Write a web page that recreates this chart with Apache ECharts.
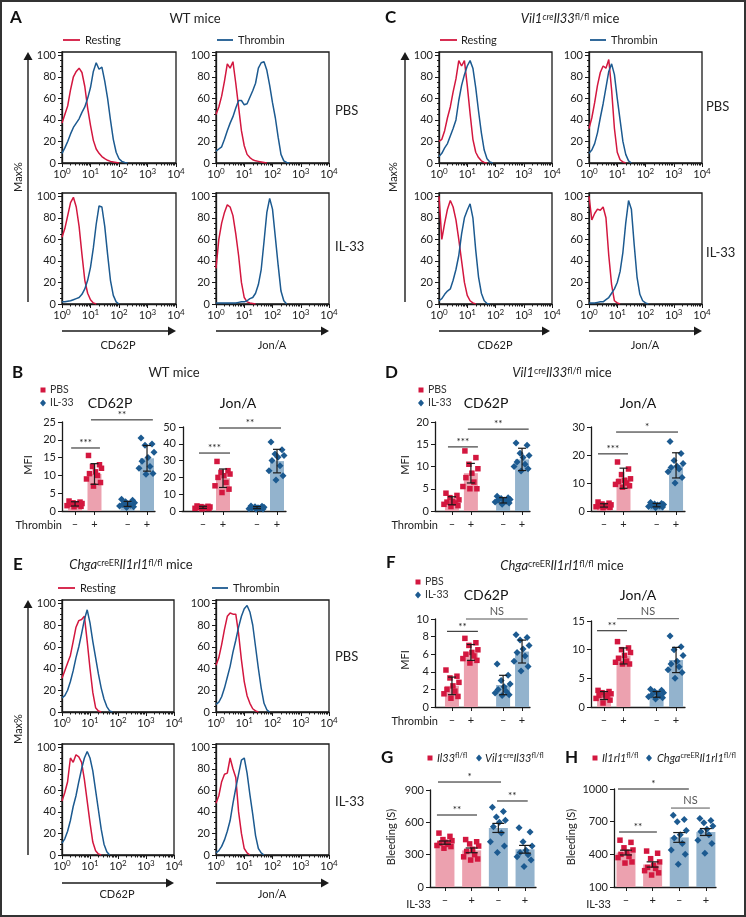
<!DOCTYPE html>
<html><head><meta charset="utf-8">
<script src="https://cdn.jsdelivr.net/npm/echarts@6/dist/echarts.min.js"></script>
<style>html,body{margin:0;padding:0;background:#fff}#c{width:746px;height:917px}</style>
</head><body><div id="c"></div><script>
// ---------- DATA ----------
// Histogram curves: Max% values sampled every 0.1 decade from 10^0
const A_CD62P_PBS_rest = [37,45,53,68,80,85,88,84,71,51,35,21,13,9,6,4,2.5,1.5,1,0.5,0];
const A_CD62P_PBS_thr  = [9,14,20,27,33,37,41,47,52,60,70,85,93,87,89,76,60,40,22,10,4,1.5,0.5,0];
const A_JonA_PBS_rest  = [45,52,62,76,92,88,94,74,52,30,16,8,5,3,2,1.5,1,0.5,0];
const A_JonA_PBS_thr   = [11,13,15,22,30,37,43,51,58,58,54,55,61,67,74,88,93,94,86,72,56,42,24,8,2,0.5,0];
const A_CD62P_IL33_rest= [62,70,82,94,99,90,72,46,22,10,4,1,0];
const A_CD62P_IL33_thr = [2,2,2.5,3,4,5,6,9,14,22,34,52,74,91,90,72,46,22,8,2,0];
const A_JonA_IL33_rest = [33,60,75,85,92,90,82,65,45,20,6,2,1,0.5,0];
const A_JonA_IL33_thr  = [1,1,1,1,1,1,1,1,1.5,2,2,3,5,6,10,18,32,58,85,98,88,62,36,12,3,0];

const C_CD62P_PBS_rest = [20,22,30,42,52,66,78,95,90,95,72,46,22,10,5,2,0.5,0];
const C_CD62P_PBS_thr  = [6,9,14,18,25,32,40,58,72,82,90,95,88,70,48,28,12,4,1,0];
const C_JonA_PBS_rest  = [32,42,56,72,84,90,88,96,68,32,10,3,1,0];
const C_JonA_PBS_thr   = [9,12,18,28,42,55,70,85,92,82,60,40,20,8,2,0];
const C_CD62P_IL33_rest= [100,60,75,88,96,90,78,60,40,20,8,3,1,0];
const C_CD62P_IL33_thr = [3,5,9,12,14,22,32,45,65,80,87,93,80,50,25,10,3,0.5,0];
const C_JonA_IL33_rest = [100,78,84,88,87,90,80,45,18,3,1,0];
const C_JonA_IL33_thr  = [1,1,1,1.5,2,2,4,6,10,14,20,30,48,75,96,88,55,25,9,3,1,0];

const E_CD62P_PBS_rest = [31,38,45,52,65,78,84,85,88,65,40,18,4,1,0];
const E_CD62P_PBS_thr  = [13,15,20,28,38,50,60,72,85,94,82,65,50,35,22,12,5,1,0];
const E_JonA_PBS_rest  = [43,50,62,76,88,91,90,90,72,48,28,15,8,3,1,0];
const E_JonA_PBS_thr   = [7,9,14,22,32,42,55,66,78,88,95,98,92,80,60,40,22,8,2,0];
const E_CD62P_IL33_rest= [50,58,68,90,86,93,91,86,70,50,30,12,4,1,0];
const E_CD62P_IL33_thr = [11,15,22,32,45,55,68,80,90,96,90,78,60,42,24,10,3,0];
const E_JonA_IL33_rest = [48,55,68,75,76,90,80,72,40,20,6,2,0];
const E_JonA_IL33_thr  = [2,4,8,14,22,32,48,62,75,88,90,76,56,38,18,6,2,0];

const X_TICKS = [0,1,2,3,4]; // exponents of 10

// Bar/dot panels: groups = [PBS/–, PBS/+, IL-33/–, IL-33/+]
const THROMBIN_TICKS = ['–','+','–','+'];
const B_CD62P_mean = [2.0,10.4,2.0,14.8], B_CD62P_sd = [0.6,2.9,0.7,3.6];
const B_CD62P_pts = [[2.8,2.5,2.3,2.1,2.0,1.9,1.7,1.5,1.3,1.2],[15.6,13.0,12.5,12.0,11.0,10.5,10.0,9.0,8.0,7.0],[3.3,3.0,2.6,2.3,2.0,1.8,1.6,1.4,1.2,1.0],[20.5,18.8,18.5,16.5,15.0,14.0,12.5,12.0,10.5,10.3]];
const B_JonA_mean = [2.2,19.5,2.0,29.7], B_JonA_sd = [0.6,5.5,0.6,7.0];
const B_JonA_pts = [[3.0,2.8,2.6,2.4,2.2,2.0,1.8,1.6,1.5,1.3],[29.5,24.0,23.0,22.0,21.0,20.0,17.0,15.0,13.0,11.0],[3.0,2.8,2.5,2.2,2.0,1.8,1.6,1.4,1.2,1.0],[41.0,36.5,34.0,33.0,32.0,30.0,27.0,24.0,21.0,18.5]];
const D_CD62P_mean = [2.3,8.5,2.4,11.6], D_CD62P_sd = [0.9,2.2,0.6,2.5];
const D_CD62P_pts = [[4.0,3.5,3.0,2.5,2.2,2.0,1.8,1.5,1.2,1.0],[13.5,12.0,10.5,9.5,8.5,7.5,6.5,5.5,5.0,5.0],[3.3,3.0,2.8,2.6,2.5,2.4,2.2,2.0,1.8,1.5],[15.3,14.8,13.0,12.5,12.0,11.0,10.5,10.0,9.5,9.0]];
const D_JonA_mean = [2.0,11.7,2.1,16.3], D_JonA_sd = [0.6,3.6,0.6,4.5];
const D_JonA_pts = [[3.2,2.8,2.5,2.2,2.0,1.8,1.6,1.5,1.3,1.2],[17.5,15.0,13.0,11.5,11.0,10.5,10.0,9.5,9.0,8.5],[3.0,2.7,2.5,2.3,2.1,2.0,1.8,1.6,1.4,1.2],[24.8,20.5,18.0,17.0,16.0,15.5,15.0,14.0,12.0,10.0]];
const F_CD62P_mean = [2.4,6.2,2.5,6.3], F_CD62P_sd = [1.0,0.9,1.1,1.3];
const F_CD62P_pts = [[4.2,3.5,3.3,2.8,2.4,2.0,1.8,1.5,1.2,1.0],[7.8,7.3,7.0,6.5,6.2,6.0,5.8,5.5,5.3,5.0],[4.9,3.6,3.0,2.6,2.3,2.0,1.8,1.6,1.4,1.3],[8.2,7.9,7.6,7.0,6.6,6.2,5.8,5.2,4.6,4.1]];
const F_JonA_mean = [2.0,8.9,2.2,8.2], F_JonA_sd = [0.7,1.4,0.5,2.2];
const F_JonA_pts = [[2.9,2.7,2.5,2.3,2.1,2.0,1.8,1.5,1.2,0.7],[11.4,10.3,10.0,9.5,9.0,8.5,8.0,7.8,7.5,7.5],[3.1,2.9,2.7,2.5,2.3,2.1,2.0,1.8,1.6,1.4],[12.4,10.5,10.0,9.0,8.0,7.5,7.0,6.5,6.0,5.0]];
// Bleeding time (s)
const G_mean = [412,340,548,350], G_sem = [15,22,42,36];
const G_pts = [[500,470,440,430,415,405,395,385,375,360],[440,420,400,380,350,330,300,280,260,250],[740,700,650,620,600,560,500,420,380,320],[550,510,420,380,340,320,300,280,250,190]];
const H_mean = [416,307,555,605], H_sem = [22,24,45,32];
const H_pts = [[530,510,460,440,420,400,380,370,330,320],[430,410,360,330,300,280,270,250,230,210],[760,720,700,620,580,550,500,440,400,310],[730,710,690,660,630,610,580,530,500,410]];
// significance brackets: [from, to, level, label]
const B_CD62P_sig = [[0.8,2.28,17.7,'***'],[1.82,5.0,25.6,'**']];
const B_JonA_sig  = [[0.8,2.35,34.5,'***'],[1.8,4.9,49.4,'**']];
const D_CD62P_sig = [[0.79,2.37,14.4,'***'],[1.84,5.05,18.4,'**']];
const D_JonA_sig  = [[0.69,2.23,20.4,'***'],[1.62,4.8,28.2,'*']];
const F_CD62P_sig = [[0.74,2.37,8.6,'**'],[1.74,5.0,10.0,'NS']];
const F_JonA_sig  = [[0.64,2.18,13.3,'**'],[1.67,4.85,15.4,'NS']];
const G_sig = [[0.74,3.1,974,'*'],[0.7,2.2,668,'**'],[2.95,4.1,798,'**']];
const H_sig = [[0.7,3.36,1000,'*'],[2.69,4.15,825,'NS'],[0.74,2.16,605,'**']];

// ---------- STYLE ----------
const FONT = 'Lato, "Open Sans", sans-serif';
const RED = '#d3173f', BLUE = '#1c5a90', PINK = '#eca1af', LBLUE = '#93b3cd', INK = '#1a1a1a';
const STEP = 0.1;
const POS_T = [1,2,3.7,4.7], POS_G = [1,2,3,4];
const JITTER = [-6,5,-2,7,1,-5,3,-8,6,-1];
const BAR_FILL = [PINK,PINK,LBLUE,LBLUE], PT_COL = [RED,RED,BLUE,BLUE], PT_SYM = ['rect','rect','diamond','diamond'], PT_SIZE=[5.5,5.5,7,7];
const LOGMINOR = [];
for (let d=0; d<4; d++) for (let k=2;k<=9;k++) LOGMINOR.push(d+Math.log10(k));

const grids=[], xAxes=[], yAxes=[], series=[];

const HISTS = [
 {l:62, t:52, w:114, h:111, r:A_CD62P_PBS_rest, b:A_CD62P_PBS_thr},
 {l:216,t:52, w:113, h:111, r:A_JonA_PBS_rest, b:A_JonA_PBS_thr},
 {l:62, t:193,w:114, h:111, r:A_CD62P_IL33_rest, b:A_CD62P_IL33_thr},
 {l:216,t:193,w:113, h:111, r:A_JonA_IL33_rest, b:A_JonA_IL33_thr},
 {l:439,t:52, w:113, h:111, r:C_CD62P_PBS_rest, b:C_CD62P_PBS_thr},
 {l:589,t:52, w:113, h:111, r:C_JonA_PBS_rest, b:C_JonA_PBS_thr},
 {l:439,t:193,w:113, h:111, r:C_CD62P_IL33_rest, b:C_CD62P_IL33_thr},
 {l:589,t:193,w:113, h:111, r:C_JonA_IL33_rest, b:C_JonA_IL33_thr},
 {l:62, t:600,w:112, h:112, r:E_CD62P_PBS_rest, b:E_CD62P_PBS_thr},
 {l:216,t:600,w:113, h:112, r:E_JonA_PBS_rest, b:E_JonA_PBS_thr},
 {l:62, t:744,w:112, h:111, r:E_CD62P_IL33_rest, b:E_CD62P_IL33_thr},
 {l:216,t:744,w:113, h:111, r:E_JonA_IL33_rest, b:E_JonA_IL33_thr}
];
const lab = {color:'#222', fontFamily:FONT, fontSize:11};
HISTS.forEach(hc=>{
  const gi = grids.length;
  grids.push({left:hc.l, top:hc.t, width:hc.w, height:hc.h, show:true, borderColor:INK, borderWidth:1.3, backgroundColor:'rgba(0,0,0,0)'});
  const xi = xAxes.length;
  xAxes.push({gridIndex:gi, type:'value', min:0, max:4, interval:1,
    axisLine:{lineStyle:{color:INK,width:1.3}}, splitLine:{show:false},
    axisTick:{length:4, lineStyle:{color:INK}},
    axisLabel:{margin:4, formatter:v=>'{b|10}{s|'+v+'}',
      rich:{b:{fontSize:11,fontFamily:FONT,color:'#222',lineHeight:14}, s:{fontSize:8,fontFamily:FONT,color:'#222',verticalAlign:'top',lineHeight:8}}}});
  xAxes.push({gridIndex:gi, type:'value', min:0, max:4, position:'bottom',
    axisLine:{show:false}, axisLabel:{show:false}, splitLine:{show:false},
    axisTick:{show:true, length:2.5, customValues:LOGMINOR, lineStyle:{color:INK}}});
  const yi = yAxes.length;
  yAxes.push({gridIndex:gi, type:'value', min:0, max:103, interval:20,
    axisLine:{show:true, lineStyle:{color:INK,width:1.3}}, splitLine:{show:false},
    axisTick:{show:true, length:4, lineStyle:{color:INK}},
    minorTick:{show:true, splitNumber:4, length:2, lineStyle:{color:INK}},
    axisLabel:Object.assign({margin:6, showMaxLabel:false}, lab)});
  [[hc.r,RED],[hc.b,BLUE]].forEach(([arr,col])=>{
    series.push({type:'line', xAxisIndex:xi, yAxisIndex:yi, symbol:'none', silent:true,
      data: arr.map((y,i)=>[i*STEP, y]), lineStyle:{color:col, width:1.5}, itemStyle:{color:col}});
  });
});

const BARS = [
 {l:62, t:422, w:93, h:89, xmin:0.33, xmax:5.11, ymin:0, ymax:25, yi:5, pos:POS_T, m:B_CD62P_mean, e:B_CD62P_sd, p:B_CD62P_pts, s:B_CD62P_sig, bw:14, cap:8},
 {l:182,t:427, w:104,h:84, xmin:-0.05,xmax:5.15, ymin:0, ymax:50, yi:10, pos:POS_T, m:B_JonA_mean, e:B_JonA_sd, p:B_JonA_pts, s:B_JonA_sig, bw:14, cap:8},
 {l:435,t:422, w:95, h:89, xmin:0.105,xmax:5.12, ymin:0, ymax:20, yi:5, pos:POS_T, m:D_CD62P_mean, e:D_CD62P_sd, p:D_CD62P_pts, s:D_CD62P_sig, bw:14, cap:8},
 {l:591,t:427, w:94, h:84, xmin:0.33, xmax:5.16, ymin:0, ymax:30, yi:10, pos:POS_T, m:D_JonA_mean, e:D_JonA_sd, p:D_JonA_pts, s:D_JonA_sig, bw:14, cap:8},
 {l:435,t:619, w:95, h:88, xmin:0.105,xmax:5.12, ymin:0, ymax:10, yi:2, pos:POS_T, m:F_CD62P_mean, e:F_CD62P_sd, p:F_CD62P_pts, s:F_CD62P_sig, bw:14, cap:8},
 {l:591,t:621, w:94, h:86, xmin:0.33, xmax:5.16, ymin:0, ymax:15, yi:5, pos:POS_T, m:F_JonA_mean, e:F_JonA_sd, p:F_JonA_pts, s:F_JonA_sig, bw:14, cap:8},
 {l:430,t:790, w:106,h:97, xmin:0.44, xmax:4.41, ymin:0, ymax:900, yi:300, pos:POS_G, m:G_mean, e:G_sem, p:G_pts, s:G_sig, bw:19, cap:12},
 {l:614,t:789, w:102,h:98, xmin:0.55, xmax:4.38, ymin:100, ymax:1000, yi:300, pos:POS_G, m:H_mean, e:H_sem, p:H_pts, s:H_sig, bw:19, cap:12}
];
BARS.forEach(bc=>{
  const gi = grids.length;
  grids.push({left:bc.l, top:bc.t, width:bc.w, height:bc.h});
  const xi = xAxes.length;
  xAxes.push({gridIndex:gi, type:'value', min:bc.xmin, max:bc.xmax,
    axisLine:{lineStyle:{color:INK,width:1.3}}, splitLine:{show:false},
    axisTick:{length:4, customValues:bc.pos, lineStyle:{color:INK}},
    axisLabel:Object.assign({margin:8, customValues:bc.pos, formatter:v=>THROMBIN_TICKS[bc.pos.indexOf(v)]}, lab)});
  const yi = yAxes.length;
  yAxes.push({gridIndex:gi, type:'value', min:bc.ymin, max:bc.ymax, interval:bc.yi,
    axisLine:{show:true, lineStyle:{color:INK,width:1.3}}, splitLine:{show:false},
    axisTick:{show:true, length:4, lineStyle:{color:INK}},
    axisLabel:Object.assign({margin:6, formatter:v=>String(v)}, lab)});
  // bars
  series.push({type:'custom', xAxisIndex:xi, yAxisIndex:yi, z:1, silent:true,
    data: bc.m.map((v,i)=>[bc.pos[i], v]),
    renderItem:(params, api)=>{
      const x=api.value(0), y=api.value(1);
      const p0=api.coord([x, bc.ymin]), p1=api.coord([x,y]);
      return {type:'rect', shape:{x:p0[0]-bc.bw/2, y:p1[1], width:bc.bw, height:p0[1]-p1[1]}, style:{fill:BAR_FILL[params.dataIndex]}};
    }});
  // points
  const pd=[];
  bc.p.forEach((grp,gi2)=>grp.forEach((v,k)=>pd.push({value:[bc.pos[gi2], v], symbol:PT_SYM[gi2], symbolSize:PT_SIZE[gi2], symbolOffset:[JITTER[k],0], itemStyle:{color:PT_COL[gi2], opacity:1}})));
  series.push({type:'scatter', xAxisIndex:xi, yAxisIndex:yi, z:2, silent:true, itemStyle:{opacity:1}, data:pd});
  // error bars
  series.push({type:'custom', xAxisIndex:xi, yAxisIndex:yi, z:3, silent:true, clip:false,
    data: bc.m.map((v,i)=>[bc.pos[i], v, bc.e[i]]),
    renderItem:(params, api)=>{
      const x=api.value(0), m=api.value(1), e=api.value(2), c=bc.cap/2;
      const pt=api.coord([x,m+e]), pb=api.coord([x,Math.max(m-e,bc.ymin)]);
      const st={stroke:INK, lineWidth:1.2};
      return {type:'group', children:[
        {type:'line', shape:{x1:pt[0],y1:pt[1],x2:pb[0],y2:pb[1]}, style:st},
        {type:'line', shape:{x1:pt[0]-c,y1:pt[1],x2:pt[0]+c,y2:pt[1]}, style:st},
        {type:'line', shape:{x1:pb[0]-c,y1:pb[1],x2:pb[0]+c,y2:pb[1]}, style:st}]};
    }});
  // significance
  series.push({type:'custom', xAxisIndex:xi, yAxisIndex:yi, z:3, silent:true, clip:false,
    data: bc.s.map(s=>[s[0], s[2]]),
    renderItem:(params, api)=>{
      const s=bc.s[params.dataIndex];
      const a=api.coord([s[0],s[2]]), b=api.coord([s[1],s[2]]);
      const ns = s[3]==='NS', col = ns?'#555':INK;
      return {type:'group', children:[
        {type:'line', shape:{x1:a[0],y1:a[1],x2:b[0],y2:a[1]}, style:{stroke:col,lineWidth:1}},
        {type:'text', x:(a[0]+b[0])/2, y:a[1]-(ns?2:0), style:{text:s[3], fill:col, fontSize:ns?11:10, fontFamily:FONT, align:'center', verticalAlign:'bottom'}}]};
    }});
});

// ---------- ANNOTATIONS ----------
const GR=[];
function txt(x,y,text,o){o=o||{};GR.push({type:'text',x,y,rotation:o.rot||0,silent:true,style:{text,fill:o.color||'#222',fontSize:o.size||11,fontFamily:FONT,fontWeight:o.bold?'bold':'normal',align:o.align||'left',verticalAlign:'middle',rich:o.rich}});}
function ln(x1,y1,x2,y2,col,w){GR.push({type:'line',silent:true,shape:{x1,y1,x2,y2},style:{stroke:col,lineWidth:w}});}
function poly(points,col){GR.push({type:'polygon',silent:true,shape:{points},style:{fill:col}});}
function hArrow(x1,x2,y){ln(x1,y,x2-6,y,INK,1.4);poly([[x2-8,y-4.5],[x2,y],[x2-8,y+4.5]],INK);}
function vArrow(x,yb,yt){ln(x,yb,x,yt+6,INK,1.4);poly([[x-4.5,yt+8],[x,yt],[x+4.5,yt+8]],INK);}
function richT(size){return {n:{fontSize:size,fontFamily:FONT,fill:'#222',color:'#222'}, i:{fontSize:size,fontFamily:FONT,fontStyle:'italic',color:'#222'}, s:{fontSize:size*0.68,fontFamily:FONT,color:'#222',verticalAlign:'top',lineHeight:size*0.7}, si:{fontSize:size*0.68,fontFamily:FONT,fontStyle:'italic',color:'#222',verticalAlign:'top',lineHeight:size*0.7}};}

GR.push({type:'rect',silent:true,shape:{x:1,y:1,width:744,height:915},style:{fill:'none',stroke:'#333',lineWidth:2}});
// panel letters
[['A',10,18],['B',12,373],['C',385,18],['D',385,373],['E',13,565],['F',386,563],['G',381,758],['H',565,758]].forEach(a=>txt(a[1],a[2],a[0],{size:17,bold:true,color:'#111'}));
// titles
txt(195,19,'WT mice',{size:13,align:'center'});
txt(174,373,'WT mice',{size:13,align:'center'});
txt(570,19,'{i|Vil1}{si|cre}{i|Il33}{s|fl/fl}{n| mice}',{size:13,align:'center',rich:richT(13)});
txt(562,373,'{i|Vil1}{s|cre}{i|Il33}{s|fl/fl}{n| mice}',{size:13,align:'center',rich:richT(13)});
txt(131,565,'{i|Chga}{s|creER}{i|Il1rl1}{s|fl/fl}{n| mice}',{size:13,align:'center',rich:richT(13)});
txt(562,566,'{i|Chga}{s|creER}{i|Il1rl1}{s|fl/fl}{n| mice}',{size:13,align:'center',rich:richT(13)});
// histogram legends
[[63,85,217,238,40],[440,461,590,611,40],[58,80,212,233,588]].forEach(a=>{
  ln(a[0],a[4],a[0]+17,a[4],RED,1.8); txt(a[1],a[4],'Resting',{size:11});
  ln(a[2],a[4],a[2]+16,a[4],BLUE,1.8); txt(a[3],a[4],'Thrombin',{size:11});
});
// side labels
[[335,111,'PBS'],[335,247,'IL-33'],[706,107,'PBS'],[706,253,'IL-33'],[335,657,'PBS'],[335,802,'IL-33']].forEach(a=>txt(a[0],a[1],a[2],{size:13}));
// Max% and arrows
txt(18,177,'Max%',{size:11,rot:Math.PI/2,align:'center'});
txt(393,177,'Max%',{size:11,rot:Math.PI/2,align:'center'});
txt(18,729,'Max%',{size:11,rot:Math.PI/2,align:'center'});
vArrow(28,302,52); vArrow(405,302,52); vArrow(28,855,600);
hArrow(62,176,331); hArrow(216,329,331); hArrow(439,550,331); hArrow(589,702,331);
hArrow(62,174,883); hArrow(216,329,883);
[[118,345,'CD62P'],[272,345,'Jon/A'],[495,345,'CD62P'],[645,345,'Jon/A'],[117,894,'CD62P'],[272,894,'Jon/A']].forEach(a=>txt(a[0],a[1],a[2],{size:11,align:'center'}));
// B/D/F legends and subtitles
[[43,390,403],[421,390,403],[418,582,595]].forEach(a=>{
  GR.push({type:'rect',silent:true,shape:{x:a[0]-2.5,y:a[1]-2.5,width:5,height:5},style:{fill:RED}});
  poly([[a[0],a[2]-3.5],[a[0]+3,a[2]],[a[0],a[2]+3.5],[a[0]-3,a[2]]],BLUE);
  txt(a[0]+7,a[1],'PBS',{size:10.5,color:'#333'}); txt(a[0]+7,a[2],'IL-33',{size:10.5,color:'#333'});
});
[[110,403,'CD62P'],[238,403,'Jon/A'],[486,403,'CD62P'],[638,403,'Jon/A'],[486,595,'CD62P'],[638,595,'Jon/A']].forEach(a=>txt(a[0],a[1],a[2],{size:14,align:'center',color:'#111'}));
txt(28,465,'MFI',{size:11,rot:Math.PI/2,align:'center'});
txt(405,465,'MFI',{size:11,rot:Math.PI/2,align:'center'});
txt(405,660,'MFI',{size:11,rot:Math.PI/2,align:'center'});
txt(62,525,'Thrombin',{size:11,align:'right'});
txt(438,525,'Thrombin',{size:11,align:'right'});
txt(438,721,'Thrombin',{size:11,align:'right'});
txt(431,904,'IL-33',{size:11,align:'right'});
txt(611,904,'IL-33',{size:11,align:'right'});
txt(391,837,'Bleeding (S)',{size:11,rot:Math.PI/2,align:'center'});
txt(571,837,'Bleeding (S)',{size:11,rot:Math.PI/2,align:'center'});
// G/H legends
GR.push({type:'rect',silent:true,shape:{x:427.5,y:755.5,width:5,height:5},style:{fill:RED}});
txt(437,758,'{i|Il33}{s|fl/fl}',{size:11,rich:richT(11)});
poly([[479,754.5],[482,758],[479,761.5],[476,758]],BLUE);
txt(485,758,'{i|Vil1}{s|cre}{i|Il33}{s|fl/fl}',{size:11,rich:richT(11)});
GR.push({type:'rect',silent:true,shape:{x:592.5,y:755.5,width:5,height:5},style:{fill:RED}});
txt(602,758,'{i|Il1rl1}{s|fl/fl}',{size:11,rich:richT(11)});
poly([[649,754.5],[652,758],[649,761.5],[646,758]],BLUE);
txt(657,758,'{i|Chga}{s|creER}{i|Il1rl1}{s|fl/fl}',{size:11,rich:richT(11)});

const chart = echarts.init(document.getElementById('c'), null, {renderer:'canvas'});
chart.setOption({animation:false, backgroundColor:'#fff', grid:grids, xAxis:xAxes, yAxis:yAxes, series, graphic:GR});
</script></body></html>
